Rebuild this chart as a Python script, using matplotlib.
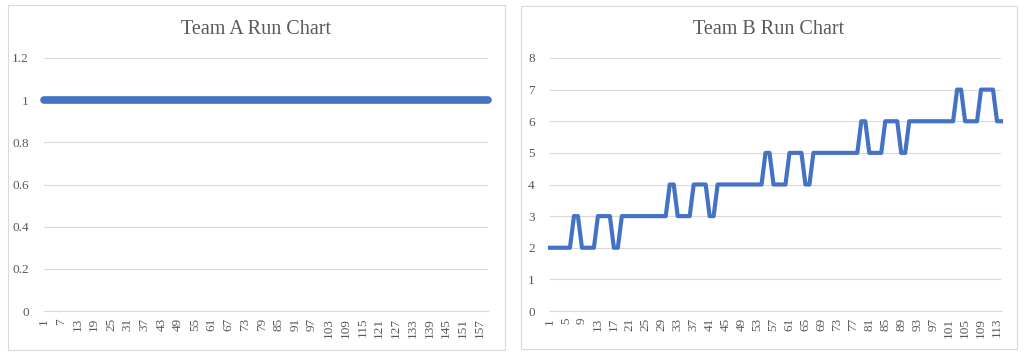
import matplotlib
matplotlib.use("Agg")
import matplotlib.pyplot as plt
from matplotlib.patches import Rectangle

# ---- data ----
team_a_values = [1] * 160
team_b_values = (
    [2] * 6 + [3] * 2 + [2] * 4 + [3] * 4 + [2] * 2 +
    [3] * 12 + [4] * 2 + [3] * 4 + [4] * 4 + [3] * 2 +
    [4] * 12 + [5] * 2 + [4] * 4 + [5] * 4 + [4] * 2 +
    [5] * 12 + [6] * 2 + [5] * 4 + [6] * 4 + [5] * 2 +
    [6] * 12 + [7] * 2 + [6] * 4 + [7] * 4 + [6] * 2
)
titles = ["Team A Run Chart", "Team B Run Chart"]
a_yticks = [0, 0.2, 0.4, 0.6, 0.8, 1, 1.2]
a_yticklabels = ["0", "0.2", "0.4", "0.6", "0.8", "1", "1.2"]
b_yticks = [0, 1, 2, 3, 4, 5, 6, 7, 8]

W, H = 1024, 355
LINE = "#4472C4"
GRID = "#D9D9D9"
TXT = "#595959"
plt.rcParams['font.family'] = ['Liberation Serif', 'DejaVu Serif']

fig = plt.figure(figsize=(W / 100, H / 100), dpi=100)
fig.patch.set_facecolor("white")

# chart frames
for (x0, y0, x1, y1) in [(8, 5, 505, 350), (521, 6, 1017, 349)]:
    fig.patches.append(Rectangle((x0 / W, 1 - y1 / H), (x1 - x0) / W, (y1 - y0) / H,
                                 transform=fig.transFigure, fill=False,
                                 edgecolor=GRID, linewidth=0.8))

def make_ax(x0, x1, y0, y1):
    return fig.add_axes([x0 / W, 1 - y1 / H, (x1 - x0) / W, (y1 - y0) / H])

def style(ax, n, step, yticks, yticklabels, ymax, title, title_x):
    xs = list(range(1, n + 1))
    ax.set_xlim(1, n)
    ax.set_ylim(0, ymax)
    ax.set_yticks(yticks)
    ax.set_yticklabels(yticklabels)
    ax.set_xticks(xs[::step])
    ax.set_xticklabels([str(v) for v in xs[::step]], rotation=90)
    for s in ["top", "right", "left"]:
        ax.spines[s].set_visible(False)
    ax.spines["bottom"].set_color(GRID)
    ax.spines["bottom"].set_linewidth(0.8)
    ax.yaxis.grid(True, color=GRID, linewidth=0.8)
    ax.set_axisbelow(True)
    ax.tick_params(axis="both", length=0, colors=TXT, labelsize=9.5)
    ax.tick_params(axis="y", pad=11)
    ax.tick_params(axis="x", pad=5)
    fig.text(title_x / W, 1 - 29 / H, title, ha="center", va="center",
             fontsize=14.5, color=TXT)

ax1 = make_ax(44, 488, 58, 311)
ax1.plot(range(1, len(team_a_values) + 1), team_a_values, color=LINE,
         linewidth=5.5, solid_capstyle="round", clip_on=False)
style(ax1, len(team_a_values), 6, a_yticks, a_yticklabels, 1.2, titles[0], 256)

ax2 = make_ax(550, 1001, 58, 311)
ax2.plot(range(1, len(team_b_values) + 1), team_b_values, color=LINE,
         linewidth=3.0, solid_joinstyle="round", clip_on=False)
style(ax2, len(team_b_values), 4, b_yticks, [str(v) for v in b_yticks], 8, titles[1], 769)

fig.savefig("out.png", dpi=100, facecolor="white")
